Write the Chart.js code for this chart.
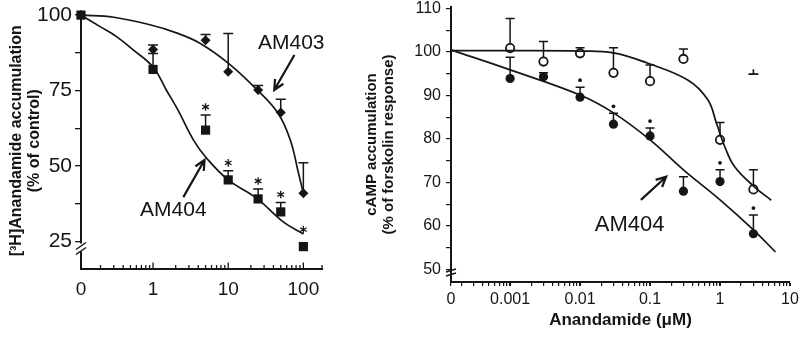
<!DOCTYPE html>
<html>
<head>
<meta charset="utf-8">
<script src="https://cdn.jsdelivr.net/npm/chart.js@4.4.1/dist/chart.umd.min.js"></script>
<style>
  body { margin: 0; background: #fff; width: 800px; height: 337px; overflow: hidden; position: relative; }
  #uptake { position: absolute; left: 0; top: 0; }
  #camp { position: absolute; left: 330px; top: 0; }
</style>
</head>
<body>
<canvas id="uptake" width="330" height="337"></canvas>
<canvas id="camp" width="470" height="337"></canvas>
<script>
// where the "0" dose sits on each log axis
var LEFT_ZERO = 0.11;
var RIGHT_ZERO = 1.43e-4;

// ---- left panel: [3H]anandamide accumulation (% of control) vs inhibitor (uM)
var uptakeDoses = [LEFT_ZERO, 1, 5, 10, 25, 50, 100];
var am404Uptake = [100, 82.0, 61.9, 45.4, 39.1, 34.8, 23.3];
var am404UptakeErr = [null, 87.3, 66.9, 48.4, 42.4, 37.9, null];
var am404UptakeSig = [0, 0, 1, 1, 1, 1, 1];
var am403Uptake = [100, 88.6, 91.7, 81.2, 75.2, 67.7, 41.0];
var am403UptakeErr = [null, 90.1, 93.6, 93.9, 76.7, 72.1, 51.1];

var am404FitX = [LEFT_ZERO, 0.2, 0.33, 0.55, 1, 1.5, 2.15, 3.45, 5.2, 10, 24, 54, 100];
var am404FitY = [100, 96.1, 92.8, 88.4, 82.8, 75.2, 68.5, 58.6, 52.5, 45.4, 39.3, 31.5, 27.5];
var am403FitX = [LEFT_ZERO, 0.3, 0.91, 2, 4.2, 10, 23, 46, 67, 86, 100];
var am403FitY = [100, 99.3, 96.8, 94.2, 90.7, 84.1, 75.8, 67.5, 58.6, 47.7, 41];

var leftXTickValues = [LEFT_ZERO, 1, 10, 100];
var leftXTickLabels = ['0', '1', '10', '100'];
var leftYTicks = [25, 37.5, 50, 62.5, 75, 87.5, 100];
var leftYLabels = [25, 50, 75, 100];

// ---- right panel: cAMP accumulation (% of forskolin response) vs anandamide (uM)
var campDoses = [0.001, 0.003, 0.01, 0.03, 0.1, 0.3, 1, 3];
var anaAlone = [100.9, 97.8, 99.7, 95.2, 93.3, 98.4, 79.8, 68.4];
var anaAloneErr = [107.7, 102.4, 101, 101, 97, 100.7, 83.8, 72.9];
var anaWithAm404 = [93.9, 94.3, 89.6, 83.4, 80.7, 68, 70.2, 58.2];
var anaWithAm404Err = [98.8, 95.2, 91.9, 85.9, 82.5, 71.3, 72.9, 62.5];
var anaWithAm404Sig = [0, 0, 1, 1, 1, 0, 1, 1];

var anaFitX = [RIGHT_ZERO, 0.001, 0.01, 0.03, 0.093, 0.35, 0.67, 0.89, 1.17, 1.62, 3.1, 5.4];
var anaFitY = [100.3, 100.3, 100.2, 99.8, 97.4, 93.5, 89, 83.6, 78.2, 73.6, 69, 65.9];
var am404FitX2 = [RIGHT_ZERO, 0.001, 0.01, 0.03, 0.1, 0.3, 1, 3, 6.2];
var am404FitY2 = [100.5, 95.9, 90.1, 86, 79.8, 72.9, 66, 59.1, 54];

var rightXTickValues = [RIGHT_ZERO, 0.001, 0.01, 0.1, 1, 10];
var rightXTickLabels = ['0', '0.001', '0.01', '0.1', '1', '10'];
var rightYTicks = [50, 55, 60, 65, 70, 75, 80, 85, 90, 95, 100, 105, 110];
var rightYLabels = [50, 60, 70, 80, 90, 100, 110];

var INK = '#151515';
var FONT = "'Liberation Sans', Arial, sans-serif";

function pairs(xs, ys) {
  return xs.map(function(x, i) { return {x: x, y: ys[i]}; });
}

function sameValue(a, b) {
  return Math.abs(a - b) / Math.abs(b) < 1e-6;
}

function isDecade(v) {
  var l = Math.log10(v);
  return Math.abs(l - Math.round(l)) < 1e-6;
}

function arrow(ctx, x1, y1, x2, y2) {
  var a = Math.atan2(y2 - y1, x2 - x1);
  var len = 11;
  ctx.beginPath();
  ctx.moveTo(x1, y1);
  ctx.lineTo(x2, y2);
  ctx.moveTo(x2 - len * Math.cos(a - 0.45), y2 - len * Math.sin(a - 0.45));
  ctx.lineTo(x2, y2);
  ctx.lineTo(x2 - len * Math.cos(a + 0.45), y2 - len * Math.sin(a + 0.45));
  ctx.stroke();
}

function star(ctx, x, y, r) {
  ctx.beginPath();
  for (var k = 0; k < 3; k++) {
    var a = Math.PI / 2 + k * Math.PI / 3;
    ctx.moveTo(x - r * Math.cos(a), y - r * Math.sin(a));
    ctx.lineTo(x + r * Math.cos(a), y + r * Math.sin(a));
  }
  ctx.stroke();
}

// error bars, significance marks, labels, arrows, axis breaks
var figurePlugin = {
  id: 'figure',
  beforeDatasetsDraw: function(chart) {
    var ctx = chart.ctx, yScale = chart.scales.y;
    ctx.save();
    ctx.strokeStyle = INK;
    ctx.lineWidth = 1.5;
    chart.data.datasets.forEach(function(ds, i) {
      if (!ds.errUpper) return;
      chart.getDatasetMeta(i).data.forEach(function(pt, j) {
        var up = ds.errUpper[j];
        if (up == null) return;
        var yUp = yScale.getPixelForValue(up);
        ctx.beginPath();
        ctx.moveTo(pt.x, pt.y);
        ctx.lineTo(pt.x, yUp);
        ctx.moveTo(pt.x - ds.capHalf, yUp);
        ctx.lineTo(pt.x + ds.capHalf, yUp);
        ctx.stroke();
      });
    });
    ctx.restore();
  },
  afterDatasetsDraw: function(chart, args, opts) {
    var ctx = chart.ctx, xScale = chart.scales.x, yScale = chart.scales.y;
    ctx.save();
    ctx.strokeStyle = INK;
    ctx.fillStyle = INK;
    chart.data.datasets.forEach(function(ds, i) {
      if (!ds.sig) return;
      chart.getDatasetMeta(i).data.forEach(function(pt, j) {
        if (!ds.sig[j]) return;
        var up = ds.errUpper[j];
        var y = up == null ? pt.y - 17 : yScale.getPixelForValue(up) - 8;
        if (ds.sigStyle === 'star') {
          ctx.lineWidth = 1.3;
          star(ctx, pt.x, y, 3.8);
        } else {
          ctx.beginPath();
          ctx.arc(pt.x, y + 1, 1.9, 0, Math.PI * 2);
          ctx.fill();
        }
      });
    });
    (opts.notes || []).forEach(function(n) {
      if (n.type === 'text') {
        ctx.font = n.size + 'px ' + FONT;
        ctx.textAlign = 'center';
        ctx.textBaseline = 'middle';
        ctx.fillText(n.text, xScale.getPixelForValue(n.x), yScale.getPixelForValue(n.y));
      } else if (n.type === 'arrow') {
        ctx.lineWidth = 2.2;
        arrow(ctx, xScale.getPixelForValue(n.from[0]), yScale.getPixelForValue(n.from[1]),
          xScale.getPixelForValue(n.to[0]), yScale.getPixelForValue(n.to[1]));
      } else if (n.type === 'stub') {
        var sx = xScale.getPixelForValue(n.x), sy = yScale.getPixelForValue(n.y);
        ctx.lineWidth = 1.6;
        ctx.beginPath();
        ctx.moveTo(sx - 5, sy);
        ctx.lineTo(sx + 5, sy);
        ctx.moveTo(sx, sy);
        ctx.lineTo(sx, sy - 5);
        ctx.stroke();
      }
    });
    ctx.restore();
  },
  afterDraw: function(chart, args, opts) {
    var ctx = chart.ctx, area = chart.chartArea, xScale = chart.scales.x;
    ctx.save();
    ctx.strokeStyle = INK;
    if (opts.inwardTicks) {
      ctx.lineWidth = 1.3;
      xScale.ticks.forEach(function(t, k) {
        var px = xScale.getPixelForValue(t.value);
        var major = k === 0 || isDecade(t.value);
        ctx.beginPath();
        ctx.moveTo(px, area.bottom);
        ctx.lineTo(px, area.bottom - (major ? 6 : 3.5));
        ctx.stroke();
      });
    }
    // axis break marks on the y axis
    var bx = area.left, by = area.bottom - opts.breakGap;
    ctx.fillStyle = '#fff';
    ctx.lineWidth = 1.5;
    if (opts.breakStyle === 'slash') {
      ctx.fillRect(bx - 2, by - 5, 4, 8);
      ctx.beginPath();
      ctx.moveTo(bx - 5, by + 1); ctx.lineTo(bx + 5, by - 6);
      ctx.moveTo(bx - 5, by + 6); ctx.lineTo(bx + 5, by - 1);
      ctx.stroke();
    } else {
      ctx.beginPath();
      ctx.moveTo(bx - 5, by - 1); ctx.lineTo(bx + 5, by - 4);
      ctx.moveTo(bx - 5, by + 3); ctx.lineTo(bx + 5, by);
      ctx.stroke();
    }
    ctx.restore();
  }
};

function fitY(width) {
  return function(scale) { scale.width = width; scale.paddingTop = 0; scale.paddingBottom = 0; };
}
function fitX(height) {
  return function(scale) { scale.height = height; scale.paddingLeft = 0; scale.paddingRight = 0; };
}
function dropHalfDecades(scale) {
  scale.ticks = scale.ticks.filter(function(t) {
    var m = t.value / Math.pow(10, Math.floor(Math.log10(t.value) + 1e-9));
    return Math.abs(m - 1.5) > 1e-6;
  });
}

// ---------------- left chart
new Chart(document.getElementById('uptake'), {
  type: 'scatter',
  data: {
    datasets: [
      { label: 'AM404 fit', data: pairs(am404FitX, am404FitY), showLine: true, pointRadius: 0,
        borderColor: INK, borderWidth: 1.7, tension: 0.4, clip: false },
      { label: 'AM403 fit', data: pairs(am403FitX, am403FitY), showLine: true, pointRadius: 0,
        borderColor: INK, borderWidth: 1.7, tension: 0.4, clip: false },
      { label: 'AM403', data: pairs(uptakeDoses, am403Uptake), errUpper: am403UptakeErr, capHalf: 5,
        pointStyle: 'rectRot', pointRadius: 5, backgroundColor: INK, borderColor: INK, borderWidth: 0, clip: false },
      { label: 'AM404', data: pairs(uptakeDoses, am404Uptake), errUpper: am404UptakeErr, capHalf: 5,
        sig: am404UptakeSig, sigStyle: 'star',
        pointStyle: 'rect', pointRadius: 6.5, backgroundColor: INK, borderColor: INK, borderWidth: 0, clip: false }
    ]
  },
  options: {
    responsive: false,
    animation: false,
    events: [],
    layout: { padding: { top: 13, right: 8, left: 0, bottom: 0 } },
    plugins: {
      legend: { display: false },
      tooltip: { enabled: false },
      figure: {
        inwardTicks: true,
        breakStyle: 'slash',
        breakGap: 20,
        notes: [
          { type: 'text', text: 'AM403', x: 69, y: 90.7, size: 21 },
          { type: 'arrow', from: [76, 86.8], to: [41, 75.2] },
          { type: 'text', text: 'AM404', x: 1.86, y: 35.4, size: 21 },
          { type: 'arrow', from: [2.53, 39.7], to: [4.84, 52] }
        ]
      }
    },
    scales: {
      x: {
        type: 'logarithmic',
        min: LEFT_ZERO,
        max: 177,
        afterFit: fitX(68.5),
        afterBuildTicks: dropHalfDecades,
        grid: { drawOnChartArea: false, drawTicks: false },
        border: { color: INK, width: 2 },
        ticks: {
          autoSkip: false, maxRotation: 0, padding: 10, color: INK,
          font: { family: FONT, size: 19 },
          callback: function(value) {
            for (var k = 0; k < leftXTickValues.length; k++) {
              if (sameValue(value, leftXTickValues[k])) return leftXTickLabels[k];
            }
            return '';
          }
        }
      },
      y: {
        min: 16.05,
        max: 100.7,
        afterFit: fitY(81),
        afterBuildTicks: function(scale) {
          scale.ticks = leftYTicks.map(function(v) { return {value: v}; });
        },
        grid: { drawOnChartArea: false, tickLength: 6, color: INK, lineWidth: 1.3 },
        border: { color: INK, width: 2 },
        ticks: {
          padding: 3, color: INK,
          font: { family: FONT, size: 21 },
          callback: function(value) { return leftYLabels.indexOf(value) >= 0 ? String(value) : ''; }
        },
        title: {
          display: true,
          text: ['[\u00B3H]Anandamide accumulation', '(% of control)'],
          color: INK,
          font: { family: FONT, size: 16, weight: 'bold', lineHeight: 1.1 },
          padding: { top: 8, bottom: 0 }
        }
      }
    }
  },
  plugins: [figurePlugin]
});

// ---------------- right chart
new Chart(document.getElementById('camp'), {
  type: 'scatter',
  data: {
    datasets: [
      { label: 'Anandamide fit', data: pairs(anaFitX, anaFitY), showLine: true, pointRadius: 0,
        borderColor: INK, borderWidth: 1.7, tension: 0.4, clip: false },
      { label: 'Anandamide + AM404 fit', data: pairs(am404FitX2, am404FitY2), showLine: true, pointRadius: 0,
        borderColor: INK, borderWidth: 1.7, tension: 0.4, clip: false },
      { label: 'Anandamide', data: pairs(campDoses, anaAlone), errUpper: anaAloneErr, capHalf: 4.5,
        pointStyle: 'circle', pointRadius: 4.2, backgroundColor: '#fff', borderColor: INK, borderWidth: 1.8, clip: false },
      { label: 'Anandamide + AM404', data: pairs(campDoses, anaWithAm404), errUpper: anaWithAm404Err, capHalf: 4.5,
        sig: anaWithAm404Sig, sigStyle: 'dot',
        pointStyle: 'circle', pointRadius: 4.6, backgroundColor: INK, borderColor: INK, borderWidth: 0, clip: false }
    ]
  },
  options: {
    responsive: false,
    animation: false,
    events: [],
    layout: { padding: { top: 7, right: 10, left: 0, bottom: 0 } },
    plugins: {
      legend: { display: false },
      tooltip: { enabled: false },
      figure: {
        inwardTicks: false,
        breakStyle: 'wave',
        breakGap: 9,
        notes: [
          { type: 'text', text: 'AM404', x: 0.051, y: 60.2, size: 22 },
          { type: 'arrow', from: [0.074, 66], to: [0.17, 71.3] },
          { type: 'stub', x: 3, y: 94.9 }
        ]
      }
    },
    scales: {
      x: {
        type: 'logarithmic',
        min: RIGHT_ZERO,
        max: 10,
        afterFit: fitX(55),
        afterBuildTicks: dropHalfDecades,
        grid: {
          drawOnChartArea: false, tickLength: 4, color: INK,
          lineWidth: function(c) { return c.tick && isDecade(c.tick.value) ? 2 : 1.2; }
        },
        border: { color: INK, width: 2 },
        ticks: {
          autoSkip: false, maxRotation: 0, padding: 4, color: INK,
          font: { family: FONT, size: 16 },
          callback: function(value) {
            for (var k = 0; k < rightXTickValues.length; k++) {
              if (sameValue(value, rightXTickValues[k])) return rightXTickLabels[k];
            }
            return '';
          }
        },
        title: {
          display: true,
          text: 'Anandamide (\u03BCM)',
          color: INK,
          font: { family: FONT, size: 17, weight: 'bold', lineHeight: 1.2 },
          padding: { top: 0, bottom: 6 }
        }
      },
      y: {
        min: 47.1,
        max: 110.35,
        afterFit: fitY(121),
        afterBuildTicks: function(scale) {
          scale.ticks = rightYTicks.map(function(v) { return {value: v}; });
        },
        grid: { drawOnChartArea: false, tickLength: 5, color: INK, lineWidth: 1.2 },
        border: { color: INK, width: 2 },
        ticks: {
          padding: 5, color: INK,
          font: { family: FONT, size: 16 },
          callback: function(value) { return rightYLabels.indexOf(value) >= 0 ? String(value) : ''; }
        },
        title: {
          display: true,
          text: ['cAMP accumulation', '(% of forskolin response)'],
          color: INK,
          font: { family: FONT, size: 15, weight: 'bold', lineHeight: 1.15 },
          padding: { top: 33, bottom: 0 }
        }
      }
    }
  },
  plugins: [figurePlugin]
});
</script>
</body>
</html>
